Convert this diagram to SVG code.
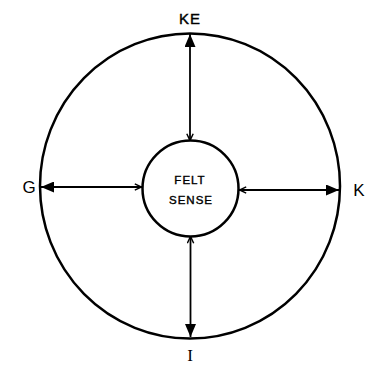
<svg xmlns="http://www.w3.org/2000/svg" width="371" height="369" viewBox="0 0 371 369">
<style>
.c{fill:none;stroke:#000;stroke-width:2.5}
.l{stroke:#000;stroke-width:1.8;fill:none}
.t{font-family:"Liberation Sans",Arial,sans-serif;fill:#000;text-anchor:middle;stroke:#000;stroke-width:0.4}
.s{font-family:"Liberation Sans",Arial,sans-serif;fill:#000;text-anchor:middle}
</style>
<defs>
<marker id="fa" viewBox="0 0 13 11" refX="13" refY="5.5" markerWidth="13" markerHeight="11" markerUnits="userSpaceOnUse" orient="auto">
<path d="M0,0 L13,5.5 L0,11 Z" fill="#000"/>
</marker>
<marker id="oa" viewBox="0 0 10 10" refX="10" refY="5" markerWidth="8" markerHeight="8" markerUnits="userSpaceOnUse" orient="auto-start-reverse">
<path d="M1,1 L9.5,5 L1,9" fill="none" stroke="#000" stroke-width="1.8"/>
</marker>
</defs>
<g id="outer"><ellipse class="c" cx="190" cy="186" rx="150" ry="152.5"/></g>
<g id="felt-sense">
<circle class="c" cx="190.5" cy="188.5" r="48"/>
<text class="t" x="190" y="184" font-size="11.5" letter-spacing="1">FELT</text>
<text class="t" x="191" y="204" font-size="11.5" letter-spacing="1">SENSE</text>
</g>
<g id="KE"><text class="t" x="190" y="24" font-size="15" letter-spacing="1">KE</text></g>
<g id="G"><text class="s" x="29" y="193" font-size="17">G</text></g>
<g id="K"><text class="s" x="359" y="196" font-size="17">K</text></g>
<g id="I"><text class="s" x="190" y="361" font-size="17" style="font-family:'Liberation Serif',serif">I</text></g>
<g id="connectors">
<line class="l" x1="190" y1="141" x2="190" y2="34" marker-start="url(#oa)" marker-end="url(#fa)"/>
<line class="l" x1="190.5" y1="236" x2="190.5" y2="337" marker-start="url(#oa)" marker-end="url(#fa)"/>
<line class="l" x1="142" y1="187" x2="41" y2="187" marker-start="url(#oa)" marker-end="url(#fa)"/>
<line class="l" x1="239" y1="190" x2="339" y2="190" marker-start="url(#oa)" marker-end="url(#fa)"/>
</g>
</svg>
